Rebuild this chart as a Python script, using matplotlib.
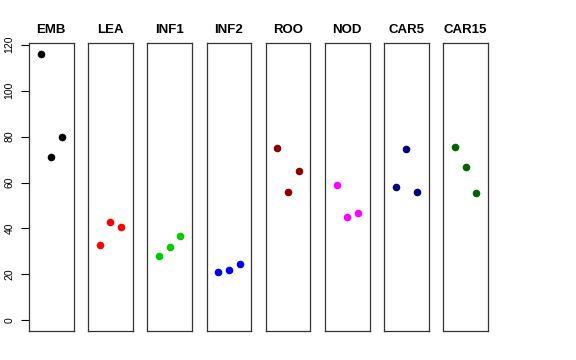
import matplotlib
matplotlib.use("Agg")
import matplotlib.pyplot as plt

plt.rcParams['font.family'] = ['Liberation Sans', 'DejaVu Sans']

groups = ["EMB", "LEA", "INF1", "INF2", "ROO", "NOD", "CAR5", "CAR15"]
colors = ["black", "#FF0000", "#00CD00", "#0000FF", "#8B0000", "#FF00FF", "#000080", "#006400"]
values = [
    [116.1, 71.2, 79.9],
    [32.6, 42.7, 40.5],
    [27.9, 31.9, 36.8],
    [20.9, 21.9, 24.4],
    [75.0, 55.9, 65.1],
    [59.0, 45.0, 46.6],
    [58.0, 74.7, 55.9],
    [75.4, 66.7, 55.6],
]
yticks = [0, 20, 40, 60, 80, 100, 120]

W, H = 576, 360
fig = plt.figure(figsize=(W / 100, H / 100), dpi=100)

ymax = max(values[0])
ylim = (-0.04 * ymax, 1.04 * ymax)

for i, (name, col, vals) in enumerate(zip(groups, colors, values)):
    left = 29 + 59.2 * i
    ax = fig.add_axes([left / W, 1 - 331 / H, 44.5 / W, (331 - 43) / H])
    ax.scatter([1, 2, 3], vals, s=20, color=col, zorder=3)
    ax.set_xlim(2 - 2.08, 2 + 2.08)
    ax.set_ylim(*ylim)
    ax.set_xticks([])
    for sp in ax.spines.values():
        sp.set_linewidth(0.9)
        sp.set_color("#333333")
    ax.set_title(name, fontsize=9.5, fontweight="bold", pad=7)
    if i == 0:
        ax.set_yticks(yticks)
        ax.set_yticklabels([str(t) for t in yticks], rotation=90, va="center", fontsize=7.5)
        ax.tick_params(axis="y", length=5.5, width=0.8, pad=5)
    else:
        ax.set_yticks([])

fig.savefig("out.png", dpi=100)
